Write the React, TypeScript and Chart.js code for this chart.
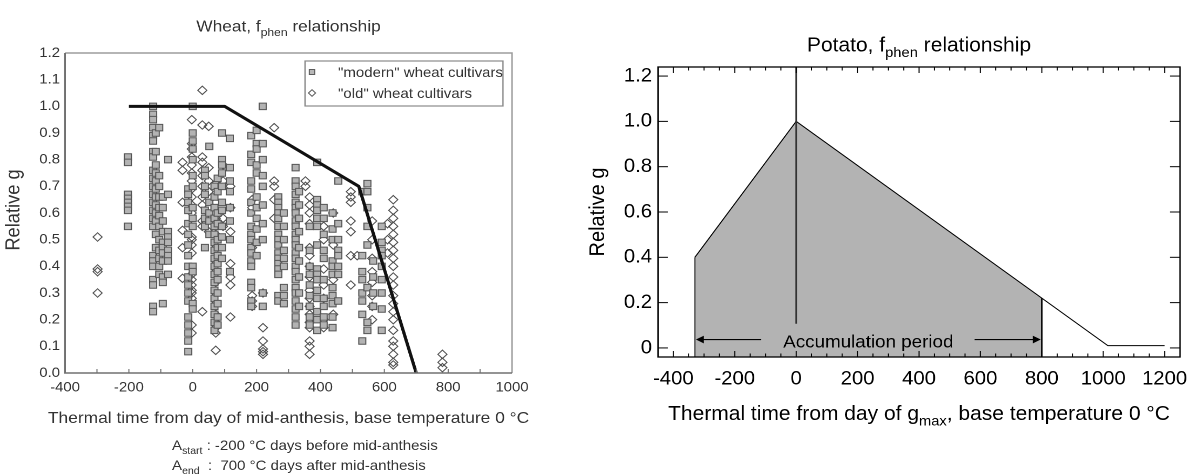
import React, { useEffect, useRef } from "react";
import { Chart, registerables } from "chart.js";

Chart.register(...registerables);

const FONT = '"Liberation Sans", Arial, Helvetica, sans-serif';

// ---------------- Wheat panel data ----------------
const wheatXTicks = [-400, -200, 0, 200, 400, 600, 800, 1000];
const wheatXMinor = [-300, -200, -100, 0, 100, 200, 300, 400, 500, 600, 700, 800, 900];
const wheatYTicks = [0, 0.1, 0.2, 0.3, 0.4, 0.5, 0.6, 0.7, 0.8, 0.9, 1.0, 1.1, 1.2];
const wheatLineX = [-200, 100, 520, 700];
const wheatLineY = [1.0, 1.0, 0.7, 0.0];
const wheatLegend = ['"modern" wheat cultivars', '"old" wheat cultivars'];

// [thermal time, relative g values observed at that time]
const modernColumns: [number, number[]][] = [
  [-203, [0.81, 0.79, 0.67, 0.655, 0.64, 0.625, 0.61, 0.55]],
  [-124, [1.0, 0.97, 0.95, 0.92, 0.89, 0.87, 0.83, 0.81, 0.76, 0.73, 0.7, 0.67, 0.64, 0.61, 0.58, 0.55, 0.44, 0.42, 0.4, 0.35, 0.33, 0.25, 0.23]],
  [-116, [0.9, 0.83, 0.78, 0.75, 0.72, 0.69, 0.66, 0.63, 0.6, 0.57, 0.52, 0.47]],
  [-105, [0.92, 0.74, 0.7, 0.66, 0.62, 0.59, 0.55, 0.5, 0.46, 0.43, 0.4, 0.37]],
  [-94, [0.66, 0.62, 0.57, 0.53, 0.49, 0.47, 0.45, 0.42, 0.36, 0.34, 0.26]],
  [-77, [0.8, 0.67, 0.53, 0.51, 0.49, 0.46, 0.44, 0.42, 0.37]],
  [-14, [0.69, 0.67, 0.64, 0.61, 0.56, 0.52, 0.48, 0.44, 0.4, 0.36, 0.33, 0.3, 0.27, 0.21, 0.18, 0.15, 0.12, 0.08]],
  [0, [1.0, 0.9, 0.87, 0.84, 0.8, 0.74, 0.7, 0.62, 0.58, 0.55, 0.4, 0.38, 0.26, 0.24]],
  [38, [0.76, 0.74, 0.7, 0.67, 0.61, 0.58, 0.55, 0.47]],
  [52, [0.85, 0.64, 0.6, 0.57, 0.52]],
  [68, [0.7, 0.66, 0.62, 0.58, 0.55, 0.52, 0.49, 0.46, 0.43, 0.4, 0.37, 0.34, 0.31, 0.28, 0.25, 0.22, 0.19, 0.16]],
  [78, [0.73, 0.68, 0.6, 0.56, 0.5, 0.47, 0.44, 0.41, 0.38, 0.35, 0.3, 0.26, 0.21, 0.18]],
  [92, [0.9, 0.8, 0.78, 0.75, 0.7, 0.64, 0.61, 0.55, 0.51, 0.47, 0.43]],
  [116, [0.88, 0.77, 0.72, 0.68, 0.62, 0.57, 0.5, 0.38]],
  [183, [0.89, 0.82, 0.79, 0.72, 0.69, 0.64, 0.6, 0.55, 0.52, 0.5, 0.47, 0.45, 0.42, 0.4, 0.34, 0.32, 0.27, 0.25]],
  [200, [0.91, 0.86, 0.84, 0.78, 0.75, 0.66, 0.62, 0.58, 0.54, 0.49, 0.44]],
  [219, [1.0, 0.86, 0.8, 0.74, 0.7, 0.63, 0.56, 0.5, 0.3, 0.25]],
  [268, [0.66, 0.64, 0.62, 0.6, 0.58, 0.55, 0.52, 0.5, 0.48, 0.45, 0.43, 0.41, 0.39, 0.37, 0.29, 0.27]],
  [285, [0.6, 0.55, 0.5, 0.46, 0.43, 0.4, 0.32, 0.29, 0.26]],
  [322, [0.77, 0.72, 0.7, 0.67, 0.64, 0.62, 0.6, 0.57, 0.55, 0.52, 0.5, 0.48, 0.45, 0.43, 0.4, 0.38, 0.35, 0.32, 0.3, 0.27, 0.24, 0.21, 0.18]],
  [333, [0.68, 0.63, 0.58, 0.53, 0.47, 0.42, 0.36, 0.3, 0.25]],
  [366, [0.55, 0.46, 0.4, 0.37, 0.33, 0.29, 0.25, 0.21, 0.18]],
  [390, [0.79, 0.65, 0.63, 0.61, 0.58, 0.55, 0.48, 0.39, 0.37, 0.35, 0.31, 0.28, 0.23, 0.2, 0.16]],
  [410, [0.62, 0.58, 0.52, 0.46, 0.43, 0.35, 0.28, 0.25, 0.21, 0.18]],
  [438, [0.6, 0.54, 0.5, 0.42, 0.4, 0.37, 0.32, 0.29, 0.26, 0.21, 0.17]],
  [456, [0.72, 0.56, 0.5, 0.46, 0.44, 0.4, 0.37, 0.27]],
  [531, [0.68, 0.44, 0.38, 0.35, 0.3, 0.27, 0.22, 0.12]],
  [547, [0.71, 0.68, 0.62, 0.55, 0.48, 0.32, 0.19, 0.16]],
  [565, [0.42, 0.36, 0.3, 0.25]],
  [592, [0.55, 0.49, 0.46, 0.44, 0.4, 0.35, 0.3, 0.24, 0.16]],
];

const oldColumns: [number, number[]][] = [
  [-298, [0.51, 0.39, 0.38, 0.3]],
  [-32, [0.79, 0.76, 0.64, 0.535, 0.47, 0.355]],
  [-3, [0.95, 0.86, 0.84, 0.81, 0.78, 0.75, 0.72, 0.69, 0.66, 0.63, 0.6, 0.51, 0.5, 0.48, 0.45, 0.37, 0.35, 0.33, 0.31, 0.3, 0.28, 0.18, 0.15]],
  [30, [1.06, 0.93, 0.81, 0.79, 0.76, 0.74, 0.7, 0.66, 0.63, 0.57, 0.55, 0.23]],
  [50, [0.925, 0.77, 0.72, 0.68, 0.62, 0.59, 0.53]],
  [72, [0.71, 0.64, 0.58, 0.52, 0.47, 0.42, 0.38, 0.34, 0.3, 0.26, 0.22, 0.19, 0.17, 0.15, 0.085]],
  [95, [0.78, 0.72, 0.58, 0.55]],
  [118, [0.7, 0.62, 0.53, 0.41, 0.36, 0.33, 0.21]],
  [186, [0.65, 0.62, 0.47, 0.29, 0.27, 0.25]],
  [220, [0.3, 0.17, 0.12, 0.09, 0.08, 0.07]],
  [255, [0.92, 0.72, 0.7, 0.65, 0.58]],
  [353, [0.72, 0.7]],
  [366, [0.66, 0.63, 0.6, 0.56, 0.47, 0.44, 0.4, 0.36, 0.31, 0.28, 0.25, 0.22, 0.19, 0.17, 0.12, 0.1, 0.07]],
  [410, [0.55, 0.5, 0.39, 0.33, 0.28, 0.2, 0.17]],
  [440, [0.6, 0.48, 0.35, 0.22]],
  [495, [0.68, 0.66, 0.64, 0.57, 0.53, 0.44, 0.33]],
  [515, [0.44]],
  [562, [0.57, 0.5, 0.43, 0.38, 0.34, 0.29, 0.25, 0.2]],
  [610, [0.56, 0.5, 0.45]],
  [628, [0.65, 0.61, 0.58, 0.55, 0.52, 0.49, 0.46, 0.43, 0.4, 0.36, 0.33, 0.29, 0.26, 0.23, 0.2, 0.16, 0.12, 0.1, 0.07, 0.04, 0.03]],
  [782, [0.07, 0.04, 0.02]],
];

// ---------------- Potato panel data ----------------
const potatoXTicks = [-400, -200, 0, 200, 400, 600, 800, 1000, 1200];
const potatoYTicks = [0, 0.2, 0.4, 0.6, 0.8, 1.0, 1.2];
const potatoLineX = [-330, 0, 1015, 1200];
const potatoLineY = [0.4, 1.0, 0.01, 0.01];
const accumX = [-330, 0, 800];
const accumY = [0.4, 1.0, 0.22];
const gmaxLineY = [1.24, 0.107];
const arrowY = 0.037;
const arrowTails = [-114, 581];

// ---------------- helpers ----------------
type Part = { t: string; sub?: boolean };

function drawRich(
  ctx: CanvasRenderingContext2D,
  parts: Part[],
  x: number,
  y: number,
  size: number,
  align: "left" | "center",
  color: string
) {
  const sub = size * 0.7;
  const widths = parts.map((p) => {
    ctx.font = `${p.sub ? sub : size}px ${FONT}`;
    return ctx.measureText(p.t).width;
  });
  const total = widths.reduce((s, w) => s + w, 0);
  let cx = align === "center" ? x - total / 2 : x;
  ctx.fillStyle = color;
  ctx.textAlign = "left";
  ctx.textBaseline = "alphabetic";
  parts.forEach((p, i) => {
    ctx.font = `${p.sub ? sub : size}px ${FONT}`;
    ctx.fillText(p.t, cx, p.sub ? y + size * 0.28 : y);
    cx += widths[i];
  });
}

function seg(ctx: CanvasRenderingContext2D, x1: number, y1: number, x2: number, y2: number) {
  ctx.beginPath();
  ctx.moveTo(x1, y1);
  ctx.lineTo(x2, y2);
  ctx.stroke();
}

const toPoints = (cols: [number, number[]][]) =>
  cols.flatMap(([x, ys]) => ys.map((y) => ({ x, y })));

const SL = 1.08; // horizontal stretch of the wheat panel
const SR = 1.05; // horizontal stretch of the potato panel

const wheatDecor = {
  id: "wheatDecor",
  afterDraw(chart: any) {
    const { ctx, chartArea: a, scales } = chart;
    const xs = scales.x;
    const gray = "#333";
    ctx.save();
    ctx.lineWidth = 1.4;
    ctx.strokeStyle = "#9c9c9c";
    ctx.beginPath();
    ctx.moveTo(a.left, a.top);
    ctx.lineTo(a.right, a.top);
    ctx.lineTo(a.right, a.bottom);
    ctx.stroke();
    ctx.strokeStyle = "#707070";
    ctx.lineWidth = 1.6;
    ctx.beginPath();
    ctx.moveTo(a.left, a.top);
    ctx.lineTo(a.left, a.bottom);
    ctx.lineTo(a.right, a.bottom);
    ctx.stroke();
    ctx.lineWidth = 1;
    wheatXMinor.forEach((v) => {
      const px = xs.getPixelForValue(v);
      seg(ctx, px, a.bottom, px, a.bottom - 4);
    });
    const cxm = (a.left + a.right) / 2;
    drawRich(ctx, [{ t: "Wheat, f" }, { t: "phen", sub: true }, { t: " relationship" }], cxm, 31.5, 16, "center", gray);
    drawRich(ctx, [{ t: "Thermal time from day of mid-anthesis, base temperature 0 °C" }], cxm, 423, 16.1, "center", gray);
    drawRich(ctx, [{ t: "A" }, { t: "start", sub: true }, { t: " : -200 °C days before mid-anthesis" }], 159.3, 450, 13.9, "left", gray);
    drawRich(ctx, [{ t: "A" }, { t: "end", sub: true }, { t: "  :  700 °C days after mid-anthesis" }], 159.3, 470, 13.9, "left", gray);

    // legend
    const lx = a.right - 8.4;
    const lLeft = 282.4;
    const lTop = a.top + 8;
    ctx.strokeStyle = "#8a8a8a";
    ctx.lineWidth = 1.2;
    ctx.strokeRect(lLeft, lTop, lx - lLeft, 45);
    const mx = 288.9;
    ctx.fillStyle = "#b8b8b8";
    ctx.strokeStyle = "#5c5c5c";
    ctx.lineWidth = 1;
    ctx.fillRect(mx - 2.5, 72 - 2.5, 5, 5);
    ctx.strokeRect(mx - 2.5, 72 - 2.5, 5, 5);
    ctx.beginPath();
    ctx.moveTo(mx, 93 - 3.3);
    ctx.lineTo(mx + 3.3, 93);
    ctx.lineTo(mx, 93 + 3.3);
    ctx.lineTo(mx - 3.3, 93);
    ctx.closePath();
    ctx.stroke();
    drawRich(ctx, [{ t: wheatLegend[0] }], 313, 77, 13.9, "left", gray);
    drawRich(ctx, [{ t: wheatLegend[1] }], 313, 98, 13.9, "left", gray);

    ctx.translate(17.8, (a.top + a.bottom) / 2 - 3);
    ctx.rotate(-Math.PI / 2);
    drawRich(ctx, [{ t: "Relative g" }], 0, 0, 18.3, "center", gray);
    ctx.restore();
  },
};

const potatoDecor = {
  id: "potatoDecor",
  afterDraw(chart: any) {
    const { ctx, chartArea: a, scales } = chart;
    const xs = scales.x;
    const ys = scales.y;
    ctx.save();
    ctx.strokeStyle = "#000";
    ctx.lineWidth = 1.3;
    ctx.strokeRect(a.left, a.top, a.right - a.left, a.bottom - a.top);
    ctx.lineWidth = 1;
    const yLen = 9.5;
    potatoYTicks.forEach((v) => {
      const py = ys.getPixelForValue(v);
      seg(ctx, a.left, py, a.left + yLen, py);
      seg(ctx, a.right, py, a.right - yLen, py);
    });
    for (let v = -400; v <= 1200; v += 50) {
      const px = xs.getPixelForValue(v);
      const len = potatoXTicks.includes(v) ? 6 : 3.5;
      seg(ctx, px, a.bottom, px, a.bottom - len);
      seg(ctx, px, a.top, px, a.top + len);
    }
    const ay = ys.getPixelForValue(arrowY);
    const x0 = xs.getPixelForValue(accumX[0]);
    const x1 = xs.getPixelForValue(accumX[accumX.length - 1]);
    const t0 = xs.getPixelForValue(arrowTails[0]);
    const t1 = xs.getPixelForValue(arrowTails[1]);
    ctx.strokeStyle = "#000";
    ctx.fillStyle = "#000";
    ctx.lineWidth = 1.2;
    seg(ctx, t0, ay, x0 + 5, ay);
    seg(ctx, t1, ay, x1 - 5, ay);
    ctx.beginPath();
    ctx.moveTo(x0 + 1, ay);
    ctx.lineTo(x0 + 8.5, ay - 3.8);
    ctx.lineTo(x0 + 8.5, ay + 3.8);
    ctx.closePath();
    ctx.fill();
    ctx.beginPath();
    ctx.moveTo(x1 - 1, ay);
    ctx.lineTo(x1 - 8.5, ay - 3.8);
    ctx.lineTo(x1 - 8.5, ay + 3.8);
    ctx.closePath();
    ctx.fill();
    drawRich(ctx, [{ t: "Accumulation period" }], (x0 + x1) / 2, 347.5, 17.9, "center", "#000");

    const cxm = (a.left + a.right) / 2;
    drawRich(ctx, [{ t: "Potato, f" }, { t: "phen", sub: true }, { t: " relationship" }], cxm, 51.5, 20, "center", "#000");
    drawRich(
      ctx,
      [{ t: "Thermal time from day of g" }, { t: "max", sub: true }, { t: ", base temperature 0 °C" }],
      cxm,
      420,
      20,
      "center",
      "#000"
    );
    ctx.translate(22.9, (a.top + a.bottom) / 2);
    ctx.rotate(-Math.PI / 2);
    drawRich(ctx, [{ t: "Relative g" }], 0, 0, 20, "center", "#000");
    ctx.restore();
  },
};

function WheatChart() {
  const ref = useRef<HTMLCanvasElement>(null);
  useEffect(() => {
    const chart = new Chart(ref.current as HTMLCanvasElement, {
      type: "scatter",
      data: {
        datasets: [
          {
            label: "fphen",
            data: wheatLineX.map((x, i) => ({ x, y: wheatLineY[i] })),
            showLine: true,
            borderColor: "#111",
            borderWidth: 3,
            pointRadius: 0,
            fill: false,
          },
          {
            label: wheatLegend[0],
            data: toPoints(modernColumns),
            pointStyle: "rect",
            pointRadius: 4.6,
            backgroundColor: "#b3b3b3",
            borderColor: "#555",
            borderWidth: 1,
          },
          {
            label: wheatLegend[1],
            data: toPoints(oldColumns),
            pointStyle: "rectRot",
            pointRadius: 4.2,
            backgroundColor: "rgba(255,255,255,0)",
            borderColor: "#505050",
            borderWidth: 1,
          },
        ],
      } as any,
      options: {
        responsive: false,
        animation: false,
        devicePixelRatio: 2,
        layout: { padding: { left: 0, top: 53, right: 62.9, bottom: 71 } },
        plugins: { legend: { display: false }, tooltip: { enabled: false } },
        scales: {
          x: {
            type: "linear",
            min: -400,
            max: 1000,
            afterBuildTicks: (s: any) => {
              s.ticks = wheatXTicks.map((v) => ({ value: v }));
            },
            afterFit: (s: any) => {
              s.height = 30;
              s.paddingLeft = 0;
              s.paddingRight = 0;
            },
            grid: { display: false, drawTicks: false },
            border: { display: false },
            ticks: {
              font: { family: FONT, size: 13.8 },
              color: "#333",
              padding: 6.2,
              maxRotation: 0,
              autoSkip: false,
              callback: (v: any) => String(v),
            },
          },
          y: {
            type: "linear",
            min: 0,
            max: 1.2,
            afterBuildTicks: (s: any) => {
              s.ticks = wheatYTicks.map((v) => ({ value: v }));
            },
            afterFit: (s: any) => {
              s.width = 60.2;
              s.paddingTop = 0;
              s.paddingBottom = 0;
            },
            grid: { display: false, drawTicks: false },
            border: { display: false },
            ticks: {
              font: { family: FONT, size: 13.8 },
              color: "#333",
              padding: 4.6,
              autoSkip: false,
              callback: (v: any) => Number(v).toFixed(1),
            },
          },
        },
      } as any,
      plugins: [wheatDecor],
    });
    return () => chart.destroy();
  }, []);
  return <canvas ref={ref} width={537} height={474} style={{ display: "block" }} />;
}

function PotatoChart() {
  const ref = useRef<HTMLCanvasElement>(null);
  useEffect(() => {
    const chart = new Chart(ref.current as HTMLCanvasElement, {
      type: "scatter",
      data: {
        datasets: [
          {
            label: "gmax",
            data: gmaxLineY.map((y) => ({ x: accumX[1], y })),
            showLine: true,
            borderColor: "#333",
            borderWidth: 1.5,
            pointRadius: 0,
          },
          {
            label: "fphen",
            data: potatoLineX.map((x, i) => ({ x, y: potatoLineY[i] })),
            showLine: true,
            borderColor: "#000",
            borderWidth: 1,
            pointRadius: 0,
          },
          {
            label: "end",
            data: [
              { x: accumX[2], y: accumY[2] },
              { x: accumX[2], y: -0.04 },
            ],
            showLine: true,
            borderColor: "#000",
            borderWidth: 1.5,
            pointRadius: 0,
          },
          {
            label: "start",
            data: [
              { x: accumX[0], y: accumY[0] },
              { x: accumX[0], y: -0.04 },
            ],
            showLine: true,
            borderColor: "#555",
            borderWidth: 1.5,
            pointRadius: 0,
          },
          {
            label: "accumulation",
            data: accumX.map((x, i) => ({ x, y: accumY[i] })),
            showLine: true,
            fill: "start",
            backgroundColor: "#b3b3b3",
            borderColor: "rgba(0,0,0,0)",
            borderWidth: 1,
            pointRadius: 0,
          },
        ],
      } as any,
      options: {
        responsive: false,
        animation: false,
        devicePixelRatio: 2,
        layout: { padding: { left: 0, top: 67, right: 8.6, bottom: 87 } },
        plugins: { legend: { display: false }, tooltip: { enabled: false } },
        scales: {
          x: {
            type: "linear",
            min: -450,
            max: 1250,
            afterBuildTicks: (s: any) => {
              s.ticks = potatoXTicks.map((v) => ({ value: v }));
            },
            afterFit: (s: any) => {
              s.height = 30;
              s.paddingLeft = 0;
              s.paddingRight = 0;
            },
            grid: { display: false, drawTicks: false },
            border: { display: false },
            ticks: {
              font: { family: FONT, size: 19.3 },
              color: "#000",
              padding: 10.4,
              maxRotation: 0,
              autoSkip: false,
              callback: (v: any) => String(v),
            },
          },
          y: {
            type: "linear",
            min: -0.04,
            max: 1.24,
            afterBuildTicks: (s: any) => {
              s.ticks = potatoYTicks.map((v) => ({ value: v }));
            },
            afterFit: (s: any) => {
              s.width = 74.3;
              s.paddingTop = 0;
              s.paddingBottom = 0;
            },
            grid: { display: false, drawTicks: false },
            border: { display: false },
            ticks: {
              font: { family: FONT, size: 19.3 },
              color: "#000",
              padding: 5.7,
              autoSkip: false,
              callback: (v: any) => (Number(v) === 0 ? "0" : Number(v).toFixed(1)),
            },
          },
        },
      } as any,
      plugins: [potatoDecor],
    });
    return () => chart.destroy();
  }, []);
  return <canvas ref={ref} width={580} height={474} style={{ display: "block" }} />;
}

export default function App() {
  return (
    <div
      style={{
        position: "absolute",
        left: 0,
        top: 0,
        width: 1189,
        height: 474,
        background: "#fff",
        overflow: "hidden",
      }}
    >
      <div style={{ position: "absolute", left: 0, top: 0, transform: `scaleX(${SL})`, transformOrigin: "0 0" }}>
        <WheatChart />
      </div>
      <div style={{ position: "absolute", left: 580, top: 0, transform: `scaleX(${SR})`, transformOrigin: "0 0" }}>
        <PotatoChart />
      </div>
    </div>
  );
}
